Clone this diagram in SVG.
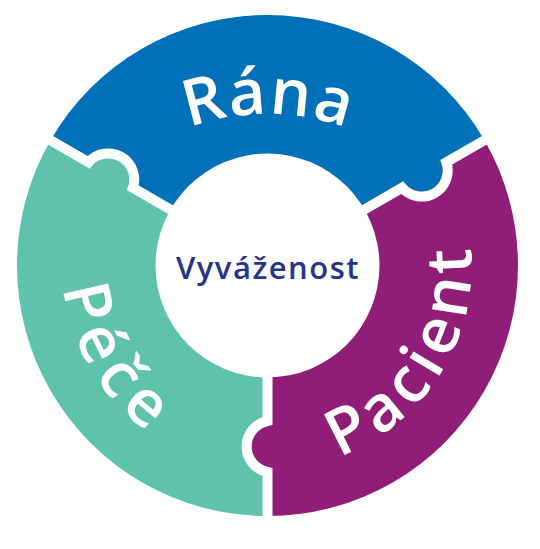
<svg xmlns="http://www.w3.org/2000/svg" width="540" height="549" viewBox="0 0 540 549">
  <style>
    .blue{fill:#0071b9}
    .purple{fill:#901e78}
    .teal{fill:#5fc2ac}
    .seam{fill:none;stroke:#ffffff;stroke-width:10}
    .label{font-family:"Open Sans","Noto Sans",sans-serif;font-weight:600;font-size:64px;fill:#ffffff}
    .center-text{font-family:"Open Sans","Noto Sans",sans-serif;font-weight:600;font-size:31px;fill:#27348b}
  </style>
  <defs>
    <path id="arc-rana" d="M119.66,167.82 A230,230 0 0 1 415.34,167.82"/>
    <path id="arc-pacient" d="M257.89,469.28 A204,204 0 0 0 448.77,171.94"/>
    <path id="arc-pece" d="M90.5,162.08 A205,205 0 0 0 266.43,470.5"/>
  </defs>
  <rect width="540" height="549" fill="#ffffff"/>
  <g id="rana">
    <path class="blue" d="M267.5,265.5 L50.56,140.25 A250.5,250.5 0 0 1 484.44,140.25 Z"/>
    <text class="label" letter-spacing="1.5"><textPath href="#arc-rana" startOffset="50.3%" text-anchor="middle">Rána</textPath></text>
  </g>
  <g id="pacient">
    <path class="purple" d="M267.5,265.5 L484.44,140.25 A250.5,250.5 0 0 1 267.5,516 Z"/>
    <text class="label" letter-spacing="6"><textPath href="#arc-pacient" startOffset="51%" text-anchor="middle">Pacient</textPath></text>
  </g>
  <g id="pece">
    <path class="teal" d="M267.5,265.5 L267.5,516 A250.5,250.5 0 0 1 50.56,140.25 Z"/>
    <text class="label" letter-spacing="9"><textPath href="#arc-pece" startOffset="51.5%" text-anchor="middle">Péče</textPath></text>
  </g>
  <g id="tabs">
    <circle class="teal" cx="108.25" cy="179.33" r="21"/>
    <circle class="blue" cx="421.75" cy="170.67" r="21"/>
    <circle class="purple" cx="272.5" cy="446.5" r="21"/>
  </g>
  <g id="seams">
    <path class="seam" d="M180.90,215.5 L132.83,187.75 A26,26 0 0 0 88.67,162.25 L40.6,134.5"/>
    <path class="seam" d="M354.10,215.5 L402.17,187.75 A26,26 0 0 0 446.33,162.25 L494.4,134.5"/>
    <path class="seam" d="M267.5,365.5 L267.5,421 A26,26 0 0 0 267.5,472 L267.5,527.5"/>
  </g>
  <g id="vyvazenost">
    <circle cx="267.5" cy="265.5" r="112" fill="#ffffff"/>
    <text class="center-text" x="268" y="279" text-anchor="middle" letter-spacing="1.5">Vyváženost</text>
  </g>
</svg>
